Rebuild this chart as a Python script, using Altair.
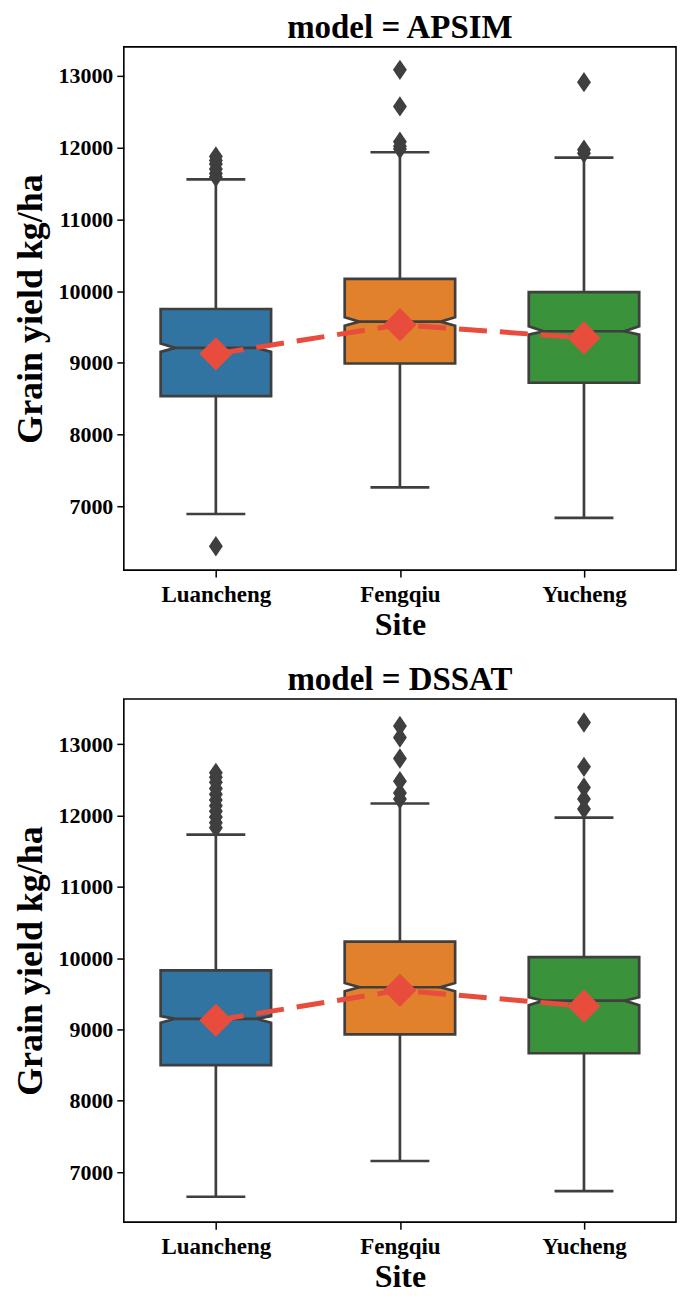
import json
import altair as alt
import pandas as pd

sites = ["Luancheng", "Fengqiu", "Yucheng"]
palette = ["#3274a1", "#e1812c", "#3a923a"]
EDGE = "#3f3f3f"
RED = "#e74c3c"
FONT = "Liberation Serif"

# ---- APSIM ----
apsim_q1 = [8537, 8991, 8722]
apsim_q3 = [9750, 10171, 9986]
apsim_median = [9208, 9574, 9440]
apsim_notch_lo = [9153, 9518, 9393]
apsim_notch_hi = [9268, 9635, 9509]
apsim_whisker_lo = [6893, 7264, 6838]
apsim_whisker_hi = [11556, 11935, 11861]
apsim_mean = [9125, 9532, 9347]
apsim_outliers = [
    [6444, 11590, 11640, 11700, 11770, 11820, 11875],
    [11980, 12020, 12080, 12574, 13083],
    [11920, 11970, 12912],
]
apsim_ydomain = [6111, 13403]

# ---- DSSAT ----
dssat_q1 = [8500, 8932, 8667]
dssat_q3 = [9830, 10234, 10015]
dssat_median = [9150, 9593, 9405]
dssat_notch_lo = [9095, 9537, 9340]
dssat_notch_hi = [9188, 9653, 9452]
dssat_whisker_lo = [6654, 7156, 6734]
dssat_whisker_hi = [11735, 12170, 11973]
dssat_mean = [9130, 9551, 9328]
dssat_outliers = [
    [11830, 11900, 11980, 12060, 12140, 12220, 12300, 12380, 12470, 12540, 12600],
    [12233, 12317, 12484, 12800, 13095, 13256],
    [12093, 12233, 12396, 12684, 13305],
]
dssat_ydomain = [6298, 13637]

y_ticks = [7000, 8000, 9000, 10000, 11000, 12000, 13000]

BOX_HALF = 0.30
NOTCH_IN = 0.08
CAP_HALF = 0.16
THIN_DIAMOND = "M0,-1L0.68,0L0,1L-0.68,0Z"

label_expr = json.dumps(sites) + "[datum.value]"


def panel(model, q1, q3, med, nlo, nhi, wlo, whi, mean, outliers, ydomain):
    xs = alt.Scale(domain=[-0.5, 2.5], nice=False, zero=False)
    ys = alt.Scale(domain=ydomain, nice=False, zero=False)
    xaxis = alt.Axis(values=[0, 1, 2], labelExpr=label_expr, title="Site",
                     grid=False, domain=False)
    yaxis = alt.Axis(values=y_ticks, format="d", title="Grain yield kg/ha",
                     grid=False, domain=False)

    def X(f):
        return alt.X(f, scale=xs, axis=xaxis)

    def Y(f):
        return alt.Y(f, scale=ys, axis=yaxis)

    box_rows, whisk_rows, cap_rows, med_rows, out_rows, mean_rows = [], [], [], [], [], []
    for i, s in enumerate(sites):
        c = i
        for v, inset in [(q1[i], 0), (nlo[i], 0), (med[i], NOTCH_IN), (nhi[i], 0), (q3[i], 0)]:
            box_rows.append({"site": s, "v": v, "xl": c - BOX_HALF + inset, "xr": c + BOX_HALF - inset})
        whisk_rows.append({"site": s, "c": c, "a": q3[i], "b": whi[i]})
        whisk_rows.append({"site": s, "c": c, "a": q1[i], "b": wlo[i]})
        cap_rows.append({"site": s, "x1": c - CAP_HALF, "x2": c + CAP_HALF, "v": whi[i]})
        cap_rows.append({"site": s, "x1": c - CAP_HALF, "x2": c + CAP_HALF, "v": wlo[i]})
        med_rows.append({"site": s, "x1": c - BOX_HALF + NOTCH_IN, "x2": c + BOX_HALF - NOTCH_IN, "v": med[i]})
        for o in outliers[i]:
            out_rows.append({"site": s, "c": c, "v": o})
        mean_rows.append({"site": s, "c": c, "v": mean[i]})

    box = alt.Chart(pd.DataFrame(box_rows)).mark_area(
        orient="horizontal", stroke=EDGE, strokeWidth=2.7, fillOpacity=1
    ).encode(
        y=Y("v:Q"), x=X("xl:Q"), x2="xr:Q",
        fill=alt.Fill("site:N", scale=alt.Scale(domain=sites, range=palette), legend=None),
        detail="site:N",
    )
    whisk = alt.Chart(pd.DataFrame(whisk_rows)).mark_rule(color=EDGE, strokeWidth=2.7).encode(
        x=X("c:Q"), y=Y("a:Q"), y2="b:Q"
    )
    caps = alt.Chart(pd.DataFrame(cap_rows)).mark_rule(color=EDGE, strokeWidth=2.7).encode(
        x=X("x1:Q"), x2="x2:Q", y=Y("v:Q")
    )
    meds = alt.Chart(pd.DataFrame(med_rows)).mark_rule(color=EDGE, strokeWidth=2.7).encode(
        x=X("x1:Q"), x2="x2:Q", y=Y("v:Q")
    )
    outs = alt.Chart(pd.DataFrame(out_rows)).mark_point(
        shape=THIN_DIAMOND, size=420, filled=True, color=EDGE, opacity=1
    ).encode(x=X("c:Q"), y=Y("v:Q"))
    mdf = pd.DataFrame(mean_rows)
    line = alt.Chart(mdf).mark_line(color=RED, strokeWidth=5, strokeDash=[28, 13]).encode(
        x=X("c:Q"), y=Y("v:Q")
    )
    means = alt.Chart(mdf).mark_point(
        shape="diamond", size=1100, filled=True, color=RED, opacity=1
    ).encode(x=X("c:Q"), y=Y("v:Q"))

    return alt.layer(box, whisk, caps, meds, outs, line, means).properties(
        width=553, height=524,
        title=alt.TitleParams(f"model = {model}", fontSize=33, font=FONT, fontWeight="bold",
                              anchor="middle", frame="group", offset=2, color="black"),
    )


top = panel("APSIM", apsim_q1, apsim_q3, apsim_median, apsim_notch_lo, apsim_notch_hi,
            apsim_whisker_lo, apsim_whisker_hi, apsim_mean, apsim_outliers, apsim_ydomain)
bottom = panel("DSSAT", dssat_q1, dssat_q3, dssat_median, dssat_notch_lo, dssat_notch_hi,
               dssat_whisker_lo, dssat_whisker_hi, dssat_mean, dssat_outliers, dssat_ydomain)

chart = alt.vconcat(top, bottom, spacing=22).properties(
    padding={"left": 4, "top": 2, "right": 0, "bottom": 0}
).configure_view(
    stroke="black", strokeWidth=1.6
).configure_axis(
    labelFont=FONT, labelFontWeight="bold", labelFontSize=22, labelColor="black",
    titleFont=FONT, titleFontWeight="bold", titleFontSize=32, titleColor="black",
    tickColor="black", tickWidth=1.5, tickSize=7,
).configure_axisY(labelPadding=4, titlePadding=8, titleFontSize=36).configure_axisX(
    labelPadding=6, titlePadding=3, labelFontSize=23
)

chart.save("out.html", embed_options={"renderer": "svg", "actions": False})
